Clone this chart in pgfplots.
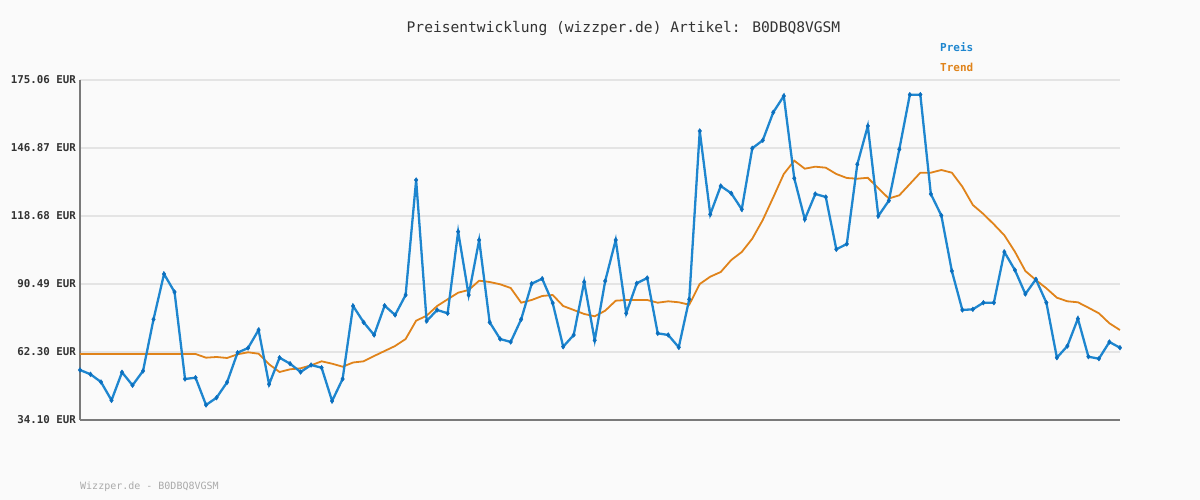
\documentclass[border=0pt]{standalone}
\usepackage{fontspec}
\setmainfont{DejaVu Sans Mono}
\setmonofont{DejaVu Sans Mono}
\usepackage{pgfplots}
\pgfplotsset{compat=1.18}
\definecolor{bg}{HTML}{FAFAFA}
\definecolor{gridc}{HTML}{E4E4E4}
\definecolor{axisc}{HTML}{7A7A7A}
\definecolor{preis}{HTML}{1E86CF}
\definecolor{preisdark}{HTML}{0B6FBE}
\definecolor{trend}{HTML}{E0831A}
\definecolor{txt}{HTML}{333333}
\definecolor{foot}{HTML}{AAAAAA}

% Preis (blue), index vs. EUR
\pgfplotstableread{
x y
0 54.83
1 53.05
2 49.85
3 42.27
4 53.88
5 48.49
6 54.42
7 75.85
8 94.63
9 87.17
10 51.10
11 51.64
12 40.32
13 43.35
14 49.73
15 62.00
16 63.95
17 71.41
18 48.90
19 59.93
20 57.44
21 54.00
22 56.90
23 55.78
24 41.98
25 51.10
26 81.36
27 74.61
28 69.34
29 81.49
30 77.63
31 85.92
32 133.60
33 75.14
34 79.71
35 78.34
36 112.17
37 85.92
38 108.73
39 74.61
40 67.68
41 66.44
42 75.85
43 90.61
44 92.68
45 82.61
46 64.49
47 69.34
48 91.31
49 67.14
50 91.73
51 108.73
52 78.34
53 90.77
54 92.97
55 70.04
56 69.34
57 64.24
58 84.14
59 153.92
60 119.38
61 131.11
62 128.09
63 121.45
64 146.74
65 150.06
66 161.67
67 168.43
68 134.31
69 117.31
70 127.80
71 126.55
72 104.87
73 107.07
74 140.11
75 155.99
76 118.68
77 125.02
78 146.33
79 168.97
80 168.97
81 127.80
82 118.88
83 95.87
84 79.71
85 79.99
86 82.73
87 82.73
88 103.75
89 96.29
90 86.34
91 92.43
92 82.73
93 59.93
94 64.78
95 76.10
96 60.34
97 59.51
98 66.44
99 64.07
}\preisdata

% Trend (orange)
\pgfplotstableread{
x y
0 61.46
11 61.46
12 59.93
13 60.22
14 59.81
15 61.34
16 62.17
17 61.59
18 57.19
19 54.00
20 55.12
21 55.53
22 56.78
23 58.43
24 57.44
25 56.20
26 57.94
27 58.43
28 60.63
29 62.71
30 64.78
31 67.68
32 75.27
33 77.34
34 81.36
35 84.14
36 86.88
37 88.00
38 91.85
39 91.31
40 90.36
41 88.83
42 82.73
43 83.85
44 85.51
45 85.92
46 81.36
47 79.71
48 78.05
49 77.09
50 79.42
51 83.56
52 83.85
53 83.85
54 83.85
55 82.73
56 83.31
57 82.90
58 81.90
59 90.48
60 93.51
61 95.46
62 100.43
63 103.75
64 109.27
65 117.02
66 126.43
67 136.09
68 141.60
69 138.29
70 139.12
71 138.70
72 136.09
73 134.43
74 134.14
75 134.51
76 130.16
77 125.93
78 127.26
79 131.94
80 136.63
81 136.63
82 137.75
83 136.63
84 130.82
85 123.24
86 119.51
87 115.23
88 110.67
89 103.88
90 95.87
91 92.14
92 88.70
93 84.80
94 83.31
95 82.90
96 80.66
97 78.34
98 74.19
99 71.41
}\trenddata

\begin{document}
\begin{tikzpicture}[x=1pt,y=1pt]
\fill[bg] (0,0) rectangle (1200,500);
\begin{axis}[
    at={(80pt,80pt)}, anchor=south west,
    width=1040pt, height=340pt, scale only axis,
    xmin=0, xmax=99, ymin=34.10, ymax=175.06,
    xtick=\empty,
    ytick={34.10,62.30,90.49,118.68,146.87,175.06},
    yticklabels={34.10 EUR,62.30 EUR,90.49 EUR,118.68 EUR,146.87 EUR,175.06 EUR},
    yticklabel style={font=\fontsize{10.8}{12}\selectfont\bfseries, text=txt, anchor=east, inner sep=0pt, xshift=-4pt},
    major tick length=0pt,
    ymajorgrids, grid style={gridc, line width=2pt},
    axis x line*=bottom, axis y line*=left,
    axis line style={axisc, line width=1.6pt},
    axis background/.style={fill=bg},
    clip=false,
]
\addplot[trend, line width=1.8pt, mark=none] table {\trenddata};
\addplot[preis, line width=2.3pt, mark=diamond*, mark size=2.4pt,
    mark options={fill=preisdark, draw=preisdark, line width=0.4pt}] table {\preisdata};
\end{axis}
\node[text=txt, font=\fontsize{14.6}{16}\selectfont] at (623.5,472) {Preisentwicklung (wizzper.de) Artikel: B0DBQ8VGSM};
\node[anchor=west, inner sep=0pt, text=preis, font=\fontsize{11}{13}\selectfont\bfseries] at (940,453) {Preis};
\node[anchor=west, inner sep=0pt, text=trend, font=\fontsize{11}{13}\selectfont\bfseries] at (940,433) {Trend};
\node[anchor=west, inner sep=0pt, text=foot, font=\fontsize{10}{12}\selectfont] at (80,13) {Wizzper.de - B0DBQ8VGSM};
\end{tikzpicture}
\end{document}
